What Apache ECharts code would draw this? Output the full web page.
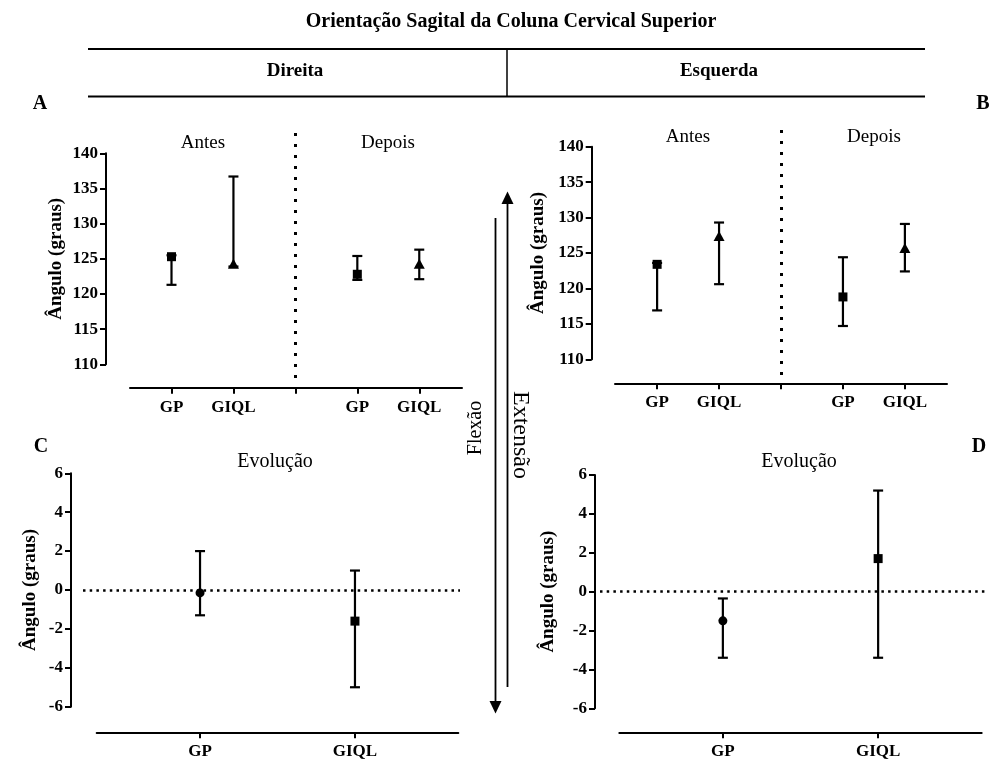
<!DOCTYPE html>
<html>
<head>
<meta charset="utf-8">
<script src="https://cdn.jsdelivr.net/npm/echarts@6/dist/echarts.min.js"></script>
<style>
  html, body { margin: 0; padding: 0; background: #fff; }
  #chart { width: 992px; height: 762px; }
</style>
</head>
<body>
<div id="chart"></div>
<script>
// Category slots on the before/after panels (the empty slot holds the dotted divider)
const groupLabels = ['GP', 'GIQL', '', 'GP', 'GIQL'];
const evolLabels = ['GP', 'GIQL'];

// Panel A – Direita, before/after (degrees): centre, lower and upper whisker
const direitaCenter = [125.3, 124.3, null, 122.8, 124.3];
const direitaLow    = [121.3, 123.9, null, 122.0, 122.1];
const direitaHigh   = [125.5, 136.7, null, 125.4, 126.3];

// Panel B – Esquerda, before/after (degrees)
const esquerdaCenter = [123.4, 127.4, null, 118.8, 125.7];
const esquerdaLow    = [116.9, 120.6, null, 114.7, 122.4];
const esquerdaHigh   = [123.6, 129.3, null, 124.4, 129.1];

// Panel C – Direita, change (degrees)
const evolDireitaCenter = [-0.15, -1.6];
const evolDireitaLow    = [-1.3, -5.0];
const evolDireitaHigh   = [2.0, 1.0];

// Panel D – Esquerda, change (degrees)
const evolEsquerdaCenter = [-1.5, 1.7];
const evolEsquerdaLow    = [-3.4, -3.4];
const evolEsquerdaHigh   = [-0.35, 5.2];

const serif = '"Liberation Serif", "Times New Roman", serif';
const INK = '#000';

const chart = echarts.init(document.getElementById('chart'), null, { renderer: 'canvas' });

function slotAxis(gridIndex, min, max, labels, offset) {
  const idx = labels.map((_, i) => i);
  return {
    type: 'value', gridIndex, min, max, position: 'bottom', offset,
    splitLine: { show: false },
    axisLine: { show: true, onZero: false, lineStyle: { color: INK, width: 2 } },
    axisTick: { show: true, customValues: idx, length: 6, lineStyle: { color: INK, width: 2 } },
    axisLabel: {
      customValues: idx, margin: 11,
      formatter: v => labels[Math.round(v)] || '',
      color: INK, fontFamily: serif, fontWeight: 'bold', fontSize: 17
    }
  };
}

function hiddenAxis(gridIndex, min, max) {
  return {
    type: 'value', gridIndex, min, max,
    show: false, splitLine: { show: false },
    axisLine: { show: false }, axisTick: { show: false }, axisLabel: { show: false }
  };
}

function valueAxis(gridIndex, min, max, interval, offset, nameGap) {
  return {
    type: 'value', gridIndex, min, max, interval, offset, position: 'left',
    splitLine: { show: false },
    axisLine: { show: true, onZero: false, lineStyle: { color: INK, width: 2 } },
    axisTick: { show: true, length: 6, lineStyle: { color: INK, width: 2 } },
    axisLabel: { margin: 8, color: INK, fontFamily: serif, fontWeight: 'bold', fontSize: 17 },
    name: 'Ângulo (graus)', nameLocation: 'middle', nameGap,
    nameTextStyle: { color: INK, fontFamily: serif, fontWeight: 'bold', fontSize: 19 }
  };
}

function whiskers(axisIndex, low, high) {
  const data = [];
  low.forEach((v, i) => { if (v !== null) data.push([i, v, high[i]]); });
  return {
    type: 'custom', xAxisIndex: axisIndex, yAxisIndex: axisIndex,
    data, encode: { x: 0, y: [1, 2] }, silent: true, z: 3,
    renderItem(params, api) {
      const x = api.value(0);
      const pLo = api.coord([x, api.value(1)]);
      const pHi = api.coord([x, api.value(2)]);
      const hw = 5;
      const style = { stroke: INK, lineWidth: 2.2, fill: null };
      return {
        type: 'group', children: [
          { type: 'line', shape: { x1: pLo[0], y1: pLo[1], x2: pHi[0], y2: pHi[1] }, style },
          { type: 'line', shape: { x1: pLo[0] - hw, y1: pLo[1], x2: pLo[0] + hw, y2: pLo[1] }, style },
          { type: 'line', shape: { x1: pHi[0] - hw, y1: pHi[1], x2: pHi[0] + hw, y2: pHi[1] }, style }
        ]
      };
    }
  };
}

const shapeSize = { rect: 9, triangle: [11, 10], circle: 9 };
function markers(axisIndex, center, shapes) {
  const data = [];
  center.forEach((v, i) => {
    if (v !== null) data.push({ value: [i, v], symbol: shapes[i], symbolSize: shapeSize[shapes[i]] });
  });
  return {
    type: 'scatter', xAxisIndex: axisIndex, yAxisIndex: axisIndex, data, z: 5, silent: true,
    itemStyle: { color: INK, opacity: 1 }
  };
}

function guide(axisIndex, mark, width, dash) {
  return {
    type: 'scatter', xAxisIndex: axisIndex, yAxisIndex: axisIndex, data: [], silent: true,
    markLine: {
      silent: true, symbol: ['none', 'none'], label: { show: false },
      lineStyle: { color: INK, width, type: dash, cap: 'butt' },
      data: [mark]
    }
  };
}

const prePostShapes = ['rect', 'triangle', null, 'rect', 'triangle'];
const evolShapes = ['circle', 'rect'];

const grid = [
  { left: 130, top: 153.3, width: 332, height: 211 },       // 0 A
  { left: 130, top: 133, width: 332, height: 245 },         // 1 A divider
  { left: 615, top: 146.7, width: 332, height: 212.6 },     // 2 B
  { left: 615, top: 128, width: 332, height: 247 },         // 3 B divider
  { left: 96.7, top: 473.3, width: 361.6, height: 233.4 },  // 4 C
  { left: 83, top: 473.3, width: 377, height: 233.4 },      // 5 C zero line
  { left: 619.3, top: 475, width: 362.4, height: 233.3 },   // 6 D
  { left: 600, top: 475, width: 385, height: 233.3 }        // 7 D zero line
];

const xAxis = [
  slotAxis(0, -0.67, 4.69, groupLabels, 23.4),
  hiddenAxis(1, -0.67, 4.69),
  slotAxis(2, -0.68, 4.68, groupLabels, 24),
  hiddenAxis(3, -0.68, 4.68),
  slotAxis(4, -0.667, 1.667, evolLabels, 25.6),
  hiddenAxis(5, 0, 1),
  slotAxis(6, -0.667, 1.667, evolLabels, 24),
  hiddenAxis(7, 0, 1)
];

const yAxis = [
  valueAxis(0, 110, 140, 5, 24, 40),
  hiddenAxis(1, 0, 1),
  valueAxis(2, 110, 140, 5, 23.3, 44),
  hiddenAxis(3, 0, 1),
  valueAxis(4, -6, 6, 2, 25.7, 31),
  hiddenAxis(5, -6, 6),
  valueAxis(6, -6, 6, 2, 24.3, 37),
  hiddenAxis(7, -6, 6)
];

const series = [
  whiskers(0, direitaLow, direitaHigh),
  markers(0, direitaCenter, prePostShapes),
  guide(1, { xAxis: 2 }, 3, [3, 8]),
  whiskers(2, esquerdaLow, esquerdaHigh),
  markers(2, esquerdaCenter, prePostShapes),
  guide(3, { xAxis: 2 }, 3, [3, 8]),
  whiskers(4, evolDireitaLow, evolDireitaHigh),
  markers(4, evolDireitaCenter, evolShapes),
  guide(5, { yAxis: 0 }, 2.5, [2.5, 4.2]),
  whiskers(6, evolEsquerdaLow, evolEsquerdaHigh),
  markers(6, evolEsquerdaCenter, evolShapes),
  guide(7, { yAxis: 0 }, 2.5, [2.5, 4.2])
];

function label(text, x, y, size, bold, rotation) {
  return {
    type: 'text', x, y, rotation: rotation || 0, silent: true,
    style: {
      text, fill: INK, textAlign: 'center', textVerticalAlign: 'middle',
      font: (bold ? 'bold ' : '') + size + 'px ' + serif
    }
  };
}
function rule(x1, y1, x2, y2, w) {
  return { type: 'line', silent: true, shape: { x1, y1, x2, y2 }, style: { stroke: INK, lineWidth: w } };
}

const graphic = [
  label('Orientação Sagital da Coluna Cervical Superior', 511, 22, 20, true),
  rule(88, 49, 925, 49, 2),
  rule(88, 96.5, 925, 96.5, 2),
  rule(507, 49, 507, 96.5, 1.5),
  label('Direita', 295, 71, 19, true),
  label('Esquerda', 719, 71, 19, true),
  label('A', 40, 104, 20, true),
  label('B', 983, 104, 20, true),
  label('C', 41, 447, 20, true),
  label('D', 979, 447, 20, true),
  label('Antes', 203, 143, 19, false),
  label('Depois', 388, 143, 19, false),
  label('Antes', 688, 137, 19, false),
  label('Depois', 874, 137, 19, false),
  label('Evolução', 275, 462, 20, false),
  label('Evolução', 799, 462, 20, false),
  // extension (up) and flexion (down) arrows between the panels
  rule(507.5, 202, 507.5, 687, 1.8),
  { type: 'polygon', silent: true, shape: { points: [[507.5, 191.5], [501.5, 204], [513.5, 204]] }, style: { fill: INK } },
  rule(495.5, 218, 495.5, 703, 1.8),
  { type: 'polygon', silent: true, shape: { points: [[495.5, 713.5], [489.5, 701], [501.5, 701]] }, style: { fill: INK } },
  label('Flexão', 476, 428, 20, false, Math.PI / 2),
  label('Extensão', 520, 435, 24, false, -Math.PI / 2)
];

chart.setOption({
  backgroundColor: '#fff',
  animation: false,
  grid, xAxis, yAxis, series, graphic
});
</script>
</body>
</html>
